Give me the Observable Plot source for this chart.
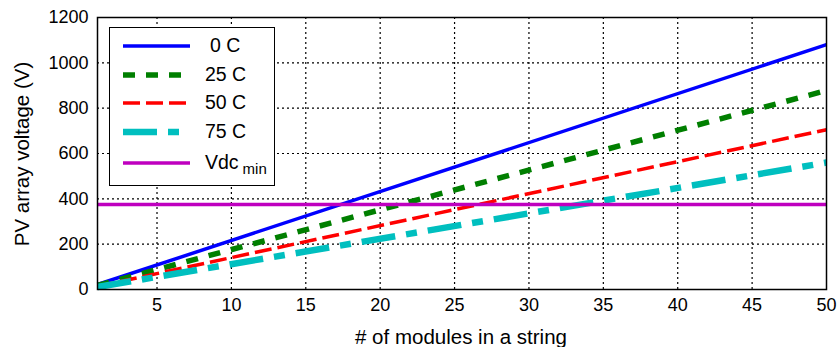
<!DOCTYPE html>
<html><head><meta charset="utf-8">
<script src="https://cdn.jsdelivr.net/npm/d3@7"></script>
<script src="https://cdn.jsdelivr.net/npm/@observablehq/plot@0.6"></script>
<style>
body{margin:0;background:#fff;font-family:"Liberation Sans",Arial,sans-serif;}
#wrap{position:relative;width:837px;height:347px;}
#legend{position:absolute;left:109px;top:27px;width:166px;height:159px;box-sizing:border-box;border:1.8px solid #000;background:#fff;}
.row{position:absolute;left:0;height:20px;}
.row svg{position:absolute;left:13px;top:0;}
.row span{position:absolute;left:95px;top:-2px;font-size:19.5px;color:#000;white-space:nowrap;}
</style></head>
<body><div id="wrap"></div>
<script>
const modules = [1, 50];
const v0C = [22, 1080];
const v25C = [18, 878];
const v50C = [14, 705];
const v75C = [11, 560];
const vdcMin = [375, 375];
const seriesNames = ["0 C", "25 C", "50 C", "75 C", "Vdc"];
const xTicks = [5, 10, 15, 20, 25, 30, 35, 40, 45, 50];
const yTicks = [0, 200, 400, 600, 800, 1000, 1200];
const xLabel = "# of modules in a string";
const yLabel = "PV array voltage (V)";

const styles = {
  "0 C": {stroke: "#0000ff", width: 3.5, dash: null},
  "25 C": {stroke: "#007f00", width: 5.5, dash: "12,11"},
  "50 C": {stroke: "#ff0000", width: 3.5, dash: "17,6"},
  "75 C": {stroke: "#00bfbf", width: 6.5, dash: "34,11,11,11"},
  "Vdc": {stroke: "#bf00bf", width: 3.5, dash: null}
};
const vals = [v0C, v25C, v50C, v75C, vdcMin];
const series = seriesNames.map((n, i) => ({name: n, data: modules.map((m, j) => ({x: m, y: vals[i][j]}))}));

const grid = {stroke: "#000", strokeOpacity: 1, strokeWidth: 1.2, strokeDasharray: "2,3"};
const plot = Plot.plot({
  width: 837, height: 347,
  marginLeft: 97, marginRight: 11, marginTop: 17, marginBottom: 58,
  style: {fontFamily: "'Liberation Sans', Arial, sans-serif", fontSize: "18px", color: "#000", background: "#fff", overflow: "visible"},
  x: {domain: [1, 50]},
  y: {domain: [0, 1200]},
  marks: [
    Plot.ruleX(xTicks.filter(t => t < 50), {...grid}),
    Plot.ruleY(yTicks.filter(t => t > 0 && t < 1200), {...grid}),
    ...series.map(s => Plot.line(s.data, {x: "x", y: "y", stroke: styles[s.name].stroke, strokeWidth: styles[s.name].width, strokeDasharray: styles[s.name].dash, strokeLinecap: "butt"})),
    Plot.frame({stroke: "#000", strokeWidth: 1.5}),
    Plot.axisX({ticks: xTicks, tickSize: 0, tickPadding: 9, tickFormat: d => String(d), label: null, fontSize: 18}),
    Plot.axisY({ticks: yTicks, tickSize: 0, tickPadding: 9, tickFormat: d => String(d), label: null, fontSize: 18})
  ]
});
const wrap = document.getElementById("wrap");
wrap.appendChild(plot);

const svg = d3.select(plot);
svg.append("text").text(xLabel).attr("x", 461).attr("y", 344)
  .attr("text-anchor", "middle").attr("font-size", 20.5).attr("fill", "#000");
svg.append("text").text(yLabel).attr("transform", "translate(29,154) rotate(-90)")
  .attr("text-anchor", "middle").attr("font-size", 20.5).attr("fill", "#000");

const legend = document.createElement("div");
legend.id = "legend";
const rowY = [8, 37, 65, 94, 125];
seriesNames.forEach((n, i) => {
  const st = styles[n];
  const row = document.createElement("div");
  row.className = "row";
  row.style.top = rowY[i] + "px";
  row.innerHTML = `<svg width="70" height="20"><line x1="0" y1="10" x2="67" y2="10" stroke="${st.stroke}" stroke-width="${st.width}" ${st.dash ? `stroke-dasharray="${st.dash}"` : ""}/></svg>` +
    (n === "Vdc" ? `<span>Vdc<sub style="font-size:15px;position:relative;top:5px;vertical-align:baseline;margin-left:4px">min</sub></span>` : `<span${i===0?' style="left:100px"':''}>${n}</span>`);
  legend.appendChild(row);
});
wrap.appendChild(legend);
</script></body></html>
